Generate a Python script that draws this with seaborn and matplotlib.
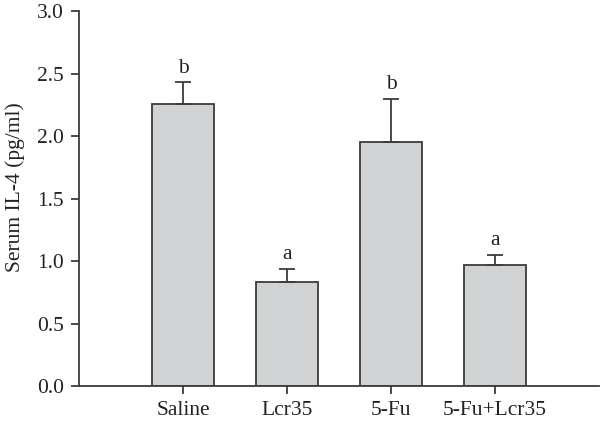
import matplotlib
matplotlib.use("Agg")
import matplotlib.pyplot as plt
import seaborn as sns
import numpy as np
import pandas as pd

groups = ["Saline", "Lcr35", "5-Fu", "5-Fu+Lcr35"]
means = [2.26, 0.83, 1.95, 0.97]
errors = [0.17, 0.11, 0.35, 0.08]
letters = ["b", "a", "b", "a"]

sns.set_theme(style="ticks")
plt.rcParams["font.family"] = ["Liberation Serif", "DejaVu Serif"]

df = pd.DataFrame({"group": groups, "mean": means})

fig = plt.figure(figsize=(6, 4.28), dpi=100)
ax = fig.add_axes([0.132, 0.098, 0.866, 0.876])

sns.barplot(data=df, x="group", y="mean", order=groups, color="#d1d2d4",
            edgecolor="#3c3c3c", linewidth=1.3, width=0.6, saturation=1,
            errorbar=None, ax=ax)

xs = np.arange(len(groups))
ax.errorbar(xs, means, yerr=[np.zeros(len(groups)), errors], fmt="none",
            ecolor="#3c3c3c", elinewidth=1.3, capsize=5.5, capthick=1.3, zorder=1)

for x, m, e, l in zip(xs, means, errors, letters):
    ax.text(x, m + e + 0.035, l, ha="center", va="bottom", fontsize=15.5, color="#222222")

ax.set_xlim(-1.0, 4.0)
ax.set_ylim(0, 3.0)
ax.set_yticks(np.arange(0, 3.01, 0.5))
ax.set_yticklabels([f"{v:.1f}" for v in np.arange(0, 3.01, 0.5)])
ax.set_xlabel("")
ax.set_ylabel("Serum IL-4 (pg/ml)", fontsize=15.5, color="#222222")
ax.yaxis.set_label_coords(-0.104, 0.53)
sns.despine(ax=ax)
for s in ["left", "bottom"]:
    ax.spines[s].set_color("#3c3c3c")
    ax.spines[s].set_linewidth(1.3)
ax.tick_params(axis="both", colors="#3c3c3c", labelcolor="#222222",
               labelsize=15.5, length=6, width=1.3, pad=5)

fig.savefig("out.png", dpi=100)
